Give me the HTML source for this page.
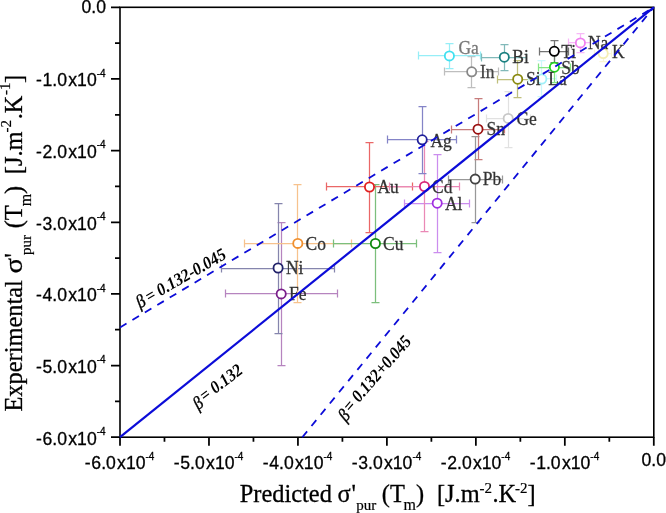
<!DOCTYPE html><html><head><meta charset="utf-8"><style>html,body{margin:0;padding:0;background:#fff;overflow:hidden;}svg{display:block;filter:blur(0.4px);}.tk{font-family:"Liberation Sans",sans-serif;font-size:17.6px;fill:#000;stroke:#000;stroke-width:0.3px;}.lb{font-family:"Liberation Serif",serif;font-size:17.5px;}.ti{font-family:"Liberation Serif",serif;font-size:24.4px;fill:#000;stroke:#000;stroke-width:0.3px;}.sb{font-family:"Liberation Serif",serif;font-size:16px;fill:#000;stroke:#000;stroke-width:0.2px;}.sp{font-family:"Liberation Serif",serif;font-size:15px;fill:#000;stroke:#000;stroke-width:0.2px;}.bt{font-family:"Liberation Serif",serif;font-size:16px;font-weight:bold;font-style:italic;fill:#000;}</style></head><body>
<svg width="666" height="513" viewBox="0 0 666 513">
<rect x="120.0" y="7.3" width="533.80" height="429.90" fill="none" stroke="#000" stroke-width="1.6"/>
<path d="M111.0 7.30H120.0M653.80 437.2V445.7M111.0 78.95H120.0M564.83 437.2V445.7M111.0 150.60H120.0M475.87 437.2V445.7M111.0 222.25H120.0M386.90 437.2V445.7M111.0 293.90H120.0M297.93 437.2V445.7M111.0 365.55H120.0M208.97 437.2V445.7M111.0 437.20H120.0M120.00 437.2V445.7M115.0 43.12H120.0M609.32 437.2V441.7M115.0 114.77H120.0M520.35 437.2V441.7M115.0 186.43H120.0M431.38 437.2V441.7M115.0 258.07H120.0M342.42 437.2V441.7M115.0 329.73H120.0M253.45 437.2V441.7M115.0 401.38H120.0M164.48 437.2V441.7" stroke="#000" stroke-width="1.75" fill="none"/>
<path stroke="#b684bf" stroke-width="1.25" fill="none" d="M225 293.5H338M281.5 222V365M225.5 289.5V297.5M337.5 289.5V297.5M277.5 222.5H285.5M277.5 365.5H285.5"/>
<path stroke="#8585ad" stroke-width="1.25" fill="none" d="M222 268.5H334M278.5 203V333M221.5 264.5V272.5M334.5 264.5V272.5M274.5 203.5H282.5M274.5 333.5H282.5"/>
<path stroke="#f7c28d" stroke-width="1.25" fill="none" d="M244 243.5H352M297.5 185V303M244.5 239.5V247.5M351.5 239.5V247.5M293.5 184.5H301.5M293.5 302.5H301.5"/>
<path stroke="#7cbf7c" stroke-width="1.25" fill="none" d="M334 243.5H417M375.5 185V303M333.5 239.5V247.5M416.5 239.5V247.5M371.5 184.5H379.5M371.5 302.5H379.5"/>
<path stroke="#ea6767" stroke-width="1.25" fill="none" d="M327 186.5H412M369.5 143V232M326.5 182.5V190.5M412.5 182.5V190.5M365.5 142.5H373.5M365.5 232.5H373.5"/>
<path stroke="#cb8dee" stroke-width="1.25" fill="none" d="M405 203.5H469M437.5 155V253M404.5 199.5V207.5M469.5 199.5V207.5M433.5 154.5H441.5M433.5 252.5H441.5"/>
<path stroke="#ea89b6" stroke-width="1.25" fill="none" d="M390 186.5H460M424.5 141V231M389.5 182.5V190.5M459.5 182.5V190.5M420.5 141.5H428.5M420.5 231.5H428.5"/>
<path stroke="#8484c7" stroke-width="1.25" fill="none" d="M388 139.5H457M422.5 107V173M387.5 135.5V143.5M456.5 135.5V143.5M418.5 106.5H426.5M418.5 173.5H426.5"/>
<path stroke="#989898" stroke-width="1.25" fill="none" d="M449 179.5H502M475.5 136V222M448.5 175.5V183.5M502.5 175.5V183.5M471.5 136.5H479.5M471.5 222.5H479.5"/>
<path stroke="#c77c7c" stroke-width="1.25" fill="none" d="M452 129.5H504M478.5 99V160M451.5 125.5V133.5M504.5 125.5V133.5M474.5 98.5H482.5M474.5 159.5H482.5"/>
<path stroke="#e1e1e1" stroke-width="1.25" fill="none" d="M486 118.5H530M508.5 92V147M486.5 114.5V122.5M530.5 114.5V122.5M504.5 91.5H512.5M504.5 147.5H512.5"/>
<path stroke="#bebebe" stroke-width="1.25" fill="none" d="M445 71.5H499M471.5 56V88M444.5 67.5V75.5M498.5 67.5V75.5M467.5 56.5H475.5M467.5 87.5H475.5"/>
<path stroke="#96eef7" stroke-width="1.25" fill="none" d="M418 55.5H481M449.5 43V68M418.5 51.5V59.5M480.5 51.5V59.5M445.5 43.5H453.5M445.5 68.5H453.5"/>
<path stroke="#81b9b9" stroke-width="1.25" fill="none" d="M482 57.5H527M504.5 45V70M481.5 53.5V61.5M526.5 53.5V61.5M500.5 44.5H508.5M500.5 70.5H508.5"/>
<path stroke="#bfbf7c" stroke-width="1.25" fill="none" d="M498 79.5H538M517.5 60V97M497.5 75.5V83.5M537.5 75.5V83.5M513.5 60.5H521.5M513.5 97.5H521.5"/>
<path stroke="#cbf7fb" stroke-width="1.25" fill="none" d="M528 78.5H556M541.5 61V97M528.5 74.5V82.5M556.5 74.5V82.5M537.5 60.5H545.5M537.5 96.5H545.5"/>
<path stroke="#84e584" stroke-width="1.25" fill="none" d="M539 67.5H570M554.5 52V82M538.5 63.5V71.5M570.5 63.5V71.5M550.5 52.5H558.5M550.5 82.5H558.5"/>
<path stroke="#737373" stroke-width="1.25" fill="none" d="M540 51.5H569M554.5 41V62M539.5 47.5V55.5M568.5 47.5V55.5M550.5 40.5H558.5M550.5 62.5H558.5"/>
<path stroke="#f9f6d6" stroke-width="1.25" fill="none" d="M595 53.5H611M603.5 46V62M594.5 49.5V57.5M611.5 49.5V57.5M599.5 45.5H607.5M599.5 61.5H607.5"/>
<path stroke="#f7b9f7" stroke-width="1.25" fill="none" d="M569 42.5H590M580.5 34V52M568.5 38.5V46.5M590.5 38.5V46.5M576.5 33.5H584.5M576.5 52.5H584.5"/>
<circle cx="281.2" cy="293.9" r="4.6" fill="#fff" stroke="#7a1f8a" stroke-width="1.8"/>
<circle cx="278.1" cy="268.0" r="4.6" fill="#fff" stroke="#22226a" stroke-width="1.8"/>
<circle cx="297.8" cy="243.4" r="4.6" fill="#fff" stroke="#f09030" stroke-width="1.8"/>
<circle cx="375.4" cy="243.5" r="4.6" fill="#fff" stroke="#108a10" stroke-width="1.8"/>
<circle cx="369.5" cy="187.0" r="4.6" fill="#fff" stroke="#e02020" stroke-width="1.8"/>
<circle cx="437.2" cy="203.2" r="4.6" fill="#fff" stroke="#a030e0" stroke-width="1.8"/>
<circle cx="424.5" cy="186.5" r="4.6" fill="#fff" stroke="#d8287a" stroke-width="1.8"/>
<circle cx="422.2" cy="139.8" r="4.6" fill="#fff" stroke="#20209a" stroke-width="1.8"/>
<circle cx="475.2" cy="179.1" r="4.6" fill="#fff" stroke="#444444" stroke-width="1.8"/>
<circle cx="478.0" cy="129.2" r="4.6" fill="#fff" stroke="#9a1010" stroke-width="1.8"/>
<circle cx="508.2" cy="118.4" r="4.6" fill="#fff" stroke="#c8c8c8" stroke-width="1.8"/>
<circle cx="471.7" cy="71.8" r="4.6" fill="#fff" stroke="#888888" stroke-width="1.8"/>
<circle cx="449.4" cy="55.9" r="4.6" fill="#fff" stroke="#40e0f0" stroke-width="1.8"/>
<circle cx="504.3" cy="57.2" r="4.6" fill="#fff" stroke="#1a8080" stroke-width="1.8"/>
<circle cx="517.7" cy="79.2" r="4.6" fill="#fff" stroke="#8a8a10" stroke-width="1.8"/>
<circle cx="541.8" cy="79.0" r="4.6" fill="#fff" stroke="#a0f0f8" stroke-width="1.8"/>
<circle cx="554.4" cy="67.2" r="4.6" fill="#fff" stroke="#20d020" stroke-width="1.8"/>
<circle cx="554.3" cy="51.3" r="4.6" fill="#fff" stroke="#000000" stroke-width="1.8"/>
<circle cx="603.2" cy="53.5" r="4.6" fill="#fff" stroke="#f4eeb4" stroke-width="1.8"/>
<circle cx="580.4" cy="42.9" r="4.6" fill="#fff" stroke="#f080f0" stroke-width="1.8"/>
<text class="lb" transform="translate(289 300.05) scale(1 1.1)" fill="#333" stroke="#333" stroke-width="0.25">Fe</text>
<text class="lb" transform="translate(286 274.15) scale(1 1.1)" fill="#333" stroke="#333" stroke-width="0.25">Ni</text>
<text class="lb" transform="translate(305.5 249.55) scale(1 1.1)" fill="#333" stroke="#333" stroke-width="0.25">Co</text>
<text class="lb" transform="translate(383 249.55) scale(1 1.1)" fill="#333" stroke="#333" stroke-width="0.25">Cu</text>
<text class="lb" transform="translate(377.5 193.15) scale(1 1.1)" fill="#333" stroke="#333" stroke-width="0.25">Au</text>
<text class="lb" transform="translate(445 210.05) scale(1 1.1)" fill="#333" stroke="#333" stroke-width="0.25">Al</text>
<text class="lb" transform="translate(432 192.55) scale(1 1.1)" fill="#333" stroke="#333" stroke-width="0.25">Cd</text>
<text class="lb" transform="translate(430.5 146.55) scale(1 1.1)" fill="#333" stroke="#333" stroke-width="0.25">Ag</text>
<text class="lb" transform="translate(482.8 185.15) scale(1 1.1)" fill="#333" stroke="#333" stroke-width="0.25">Pb</text>
<text class="lb" transform="translate(486.5 134.95) scale(1 1.1)" fill="#333" stroke="#333" stroke-width="0.25">Sn</text>
<text class="lb" transform="translate(516.4 124.55) scale(1 1.1)" fill="#333" stroke="#333" stroke-width="0.25">Ge</text>
<text class="lb" transform="translate(480 77.75) scale(1 1.1)" fill="#444" stroke="#444" stroke-width="0.25">In</text>
<text class="lb" transform="translate(458.4 53.55) scale(1 1.1)" fill="#777" stroke="#777" stroke-width="0.25">Ga</text>
<text class="lb" transform="translate(512.3 62.65) scale(1 1.1)" fill="#333" stroke="#333" stroke-width="0.25">Bi</text>
<text class="lb" transform="translate(526 85.05) scale(1 1.1)" fill="#333" stroke="#333" stroke-width="0.25">Si</text>
<text class="lb" transform="translate(548.3 84.95) scale(1 1.1)" fill="#333" stroke="#333" stroke-width="0.25">La</text>
<text class="lb" transform="translate(561.3 73.55) scale(1 1.1)" fill="#333" stroke="#333" stroke-width="0.25">Sb</text>
<text class="lb" transform="translate(561.2 57.55) scale(1 1.1)" fill="#333" stroke="#333" stroke-width="0.25">Ti</text>
<text class="lb" transform="translate(612 57.65) scale(1 1.1)" fill="#333" stroke="#333" stroke-width="0.25">K</text>
<text class="lb" transform="translate(588 48.65) scale(1 1.1)" fill="#333" stroke="#333" stroke-width="0.25">Na</text>
<line x1="120.0" y1="437.2" x2="653.8" y2="7.3" stroke="#0c0cd8" stroke-width="2.2"/>
<line x1="120.0" y1="327.40" x2="653.8" y2="7.3" stroke="#0c0cd8" stroke-width="1.8" stroke-dasharray="7.6 6.9"/>
<line x1="302.30" y1="437.2" x2="653.8" y2="7.3" stroke="#0c0cd8" stroke-width="1.8" stroke-dasharray="7.6 6.9"/>
<text class="tk" x="106" y="12.8" text-anchor="end">0.0</text>
<text class="tk" x="653.70" y="465.7" text-anchor="middle">0.0</text>
<text class="tk" x="36.00" y="86.35">-</text>
<text class="tk" x="42.56" y="86.35">1.0</text>
<text class="tk" x="68.32" y="86.35">x10<tspan font-size="10" dy="-9.6">-4</tspan></text>
<text class="tk" x="529.63" y="469.20">-</text>
<text class="tk" x="536.19" y="469.20">1.0</text>
<text class="tk" x="561.95" y="469.20">x10<tspan font-size="10" dy="-9.6">-4</tspan></text>
<text class="tk" x="36.00" y="158.00">-</text>
<text class="tk" x="42.56" y="158.00">2.0</text>
<text class="tk" x="68.32" y="158.00">x10<tspan font-size="10" dy="-9.6">-4</tspan></text>
<text class="tk" x="440.67" y="469.20">-</text>
<text class="tk" x="447.23" y="469.20">2.0</text>
<text class="tk" x="472.99" y="469.20">x10<tspan font-size="10" dy="-9.6">-4</tspan></text>
<text class="tk" x="36.00" y="229.65">-</text>
<text class="tk" x="42.56" y="229.65">3.0</text>
<text class="tk" x="68.32" y="229.65">x10<tspan font-size="10" dy="-9.6">-4</tspan></text>
<text class="tk" x="351.70" y="469.20">-</text>
<text class="tk" x="358.26" y="469.20">3.0</text>
<text class="tk" x="384.02" y="469.20">x10<tspan font-size="10" dy="-9.6">-4</tspan></text>
<text class="tk" x="36.00" y="301.30">-</text>
<text class="tk" x="42.56" y="301.30">4.0</text>
<text class="tk" x="68.32" y="301.30">x10<tspan font-size="10" dy="-9.6">-4</tspan></text>
<text class="tk" x="262.73" y="469.20">-</text>
<text class="tk" x="269.29" y="469.20">4.0</text>
<text class="tk" x="295.05" y="469.20">x10<tspan font-size="10" dy="-9.6">-4</tspan></text>
<text class="tk" x="36.00" y="372.95">-</text>
<text class="tk" x="42.56" y="372.95">5.0</text>
<text class="tk" x="68.32" y="372.95">x10<tspan font-size="10" dy="-9.6">-4</tspan></text>
<text class="tk" x="173.77" y="469.20">-</text>
<text class="tk" x="180.33" y="469.20">5.0</text>
<text class="tk" x="206.09" y="469.20">x10<tspan font-size="10" dy="-9.6">-4</tspan></text>
<text class="tk" x="36.00" y="444.60">-</text>
<text class="tk" x="42.56" y="444.60">6.0</text>
<text class="tk" x="68.32" y="444.60">x10<tspan font-size="10" dy="-9.6">-4</tspan></text>
<text class="tk" x="84.80" y="469.20">-</text>
<text class="tk" x="91.36" y="469.20">6.0</text>
<text class="tk" x="117.12" y="469.20">x10<tspan font-size="10" dy="-9.6">-4</tspan></text>
<g transform="translate(0 501.6) scale(1 1.03) translate(0 -501.6)">
<text class="ti" x="239.8" y="501.6" >Predicted</text>
<text class="ti" x="337.6" y="501.6" >σ</text>
<text class="ti" x="351.6" y="501.6" >'</text>
<text class="sb" x="356.2" y="510.20000000000005" style="font-size:15px">pur</text>
<text class="ti" x="381.8" y="501.6" >(T</text>
<text class="sb" x="403.6" y="510.20000000000005" >m</text>
<text class="ti" x="416" y="501.6" >)</text>
<text class="ti" x="437" y="501.6" >[J.m</text>
<text class="sp" x="479.5" y="493.40000000000003" >-2</text>
<text class="ti" x="492.5" y="501.6" >.K</text>
<text class="sp" x="515" y="493.40000000000003" >-2</text>
<text class="ti" x="527.5" y="501.6" >]</text>
</g>
<g transform="rotate(-90) translate(0 21.9) scale(1 1.0) translate(0 -21.9)">
<text class="ti" x="-411.6" y="21.9" >Experimental</text>
<text class="ti" x="-273.6" y="21.9" transform="translate(-273.6 0) scale(1.18 1) translate(273.6 0)">σ</text>
<text class="ti" x="-257.6" y="21.9" >'</text>
<text class="sb" x="-255" y="31.099999999999998" style="font-size:15px">pur</text>
<text class="ti" x="-228.3" y="21.9" >(T</text>
<text class="sb" x="-206.3" y="31.099999999999998" >m</text>
<text class="ti" x="-194" y="21.9" >)</text>
<text class="ti" x="-174.2" y="21.9" >[J.m</text>
<text class="sp" x="-132.5" y="10.899999999999999" >-2</text>
<text class="ti" x="-119.3" y="21.9" >.K</text>
<text class="sp" x="-95" y="9.899999999999999" >-1</text>
<text class="ti" x="-83" y="21.9" >]</text>
</g>
<text class="bt" transform="translate(141.17,307.46) rotate(-30) scale(1 1.1)"><tspan style="font-size:16.5px;font-weight:normal;stroke:#000;stroke-width:0.35" dx="-1.6" dy="0.2">β</tspan><tspan dx="2.5999999999999996" dy="-0.2">= 0.132-0.045</tspan></text>
<text class="bt" transform="translate(197.37,407.53) rotate(-37) scale(1 1.1)"><tspan style="font-size:16.5px;font-weight:normal;stroke:#000;stroke-width:0.35" dx="-1.0" dy="2.4">β</tspan><tspan dx="2.0" dy="-2.4">= 0.132</tspan></text>
<text class="bt" transform="translate(344.36,419.85) rotate(-49) scale(1 1.1)"><tspan style="font-size:16.5px;font-weight:normal;stroke:#000;stroke-width:0.35" dx="-1.0" dy="2.4">β</tspan><tspan dx="2.0" dy="-2.4">= 0.132+0.045</tspan></text>
</svg></body></html>
